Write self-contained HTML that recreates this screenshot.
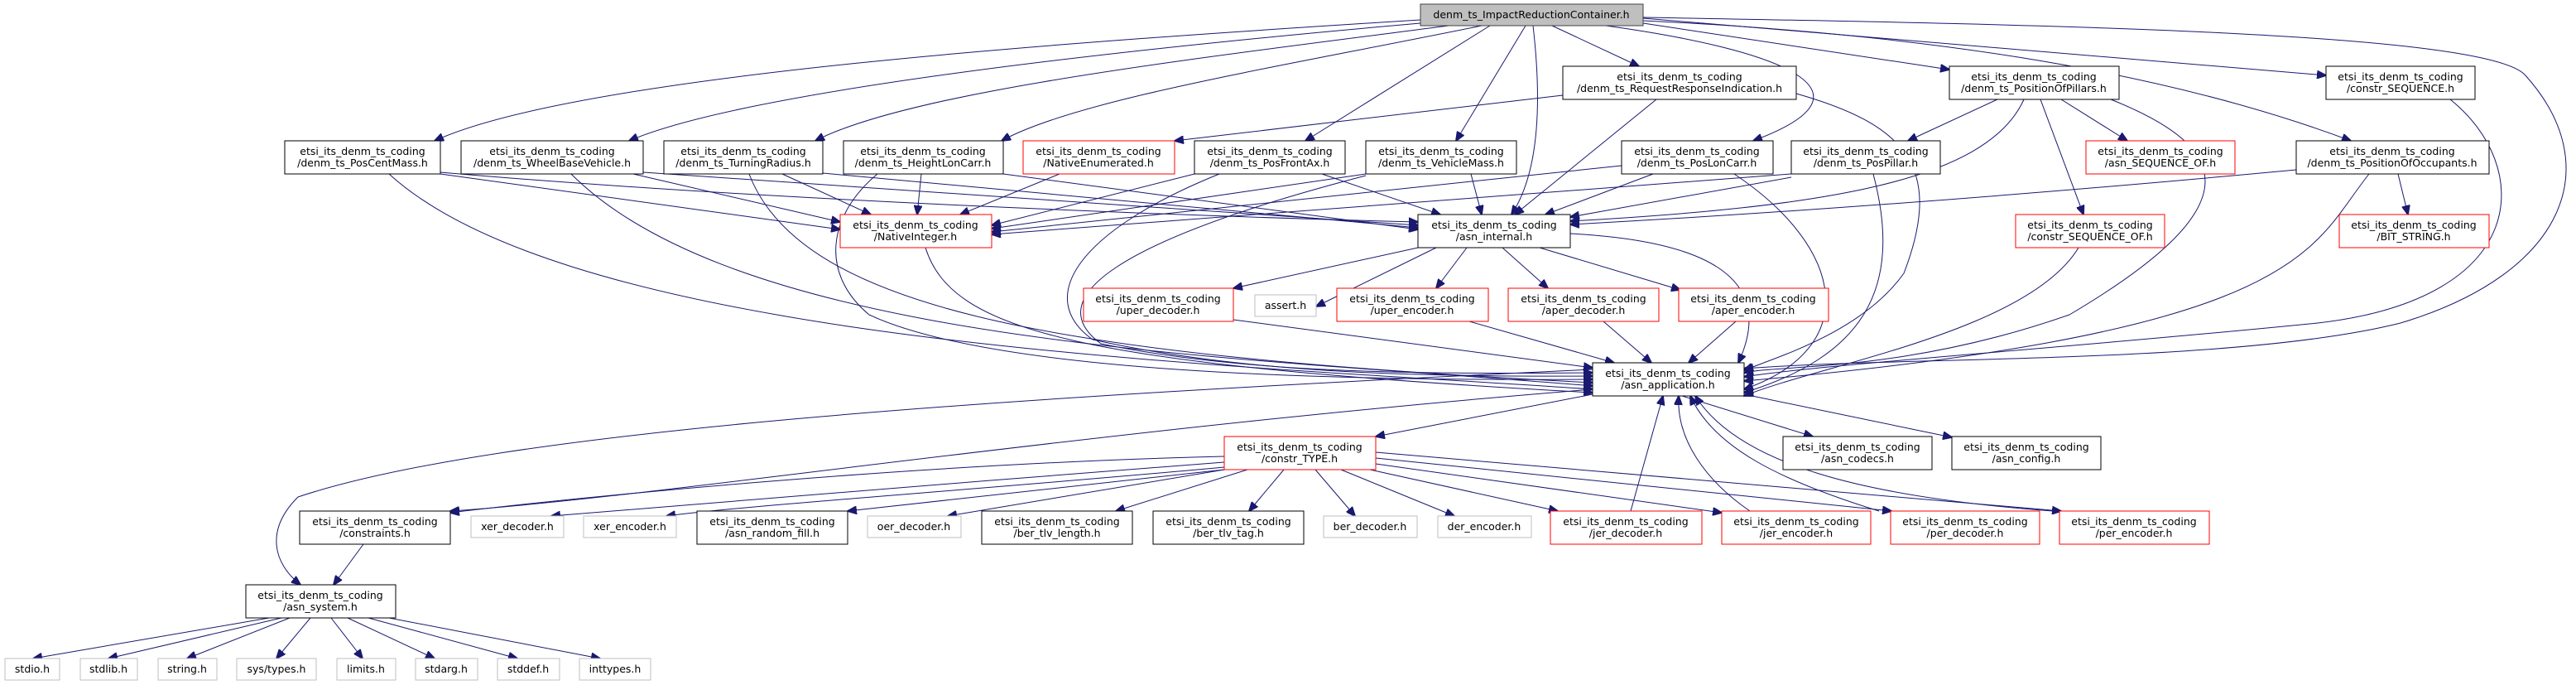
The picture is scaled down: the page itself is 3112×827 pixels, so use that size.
<!DOCTYPE html>
<html><head><meta charset="utf-8"><style>
html,body{margin:0;padding:0;background:#fff;}
svg{display:block;}
text{font-family:"DejaVu Sans","Liberation Sans",sans-serif;font-size:12.5px;fill:#000;}
.n{fill:#fff;stroke:#000;stroke-width:1;}
.r{fill:#fff;stroke:#ff0000;stroke-width:1;}
.g{fill:#fff;stroke:#bfbfbf;stroke-width:1;}
.e path{fill:none;stroke:#191970;stroke-width:1;marker-end:url(#a);}
</style></head><body>
<svg width="3112" height="827" viewBox="0 0 3112 827" xmlns="http://www.w3.org/2000/svg">
<defs><marker id="a" markerUnits="userSpaceOnUse" markerWidth="12" markerHeight="10" refX="11" refY="5" orient="auto"><path d="M0,0 L12,5 L0,10 z" fill="#191970" stroke="#191970"/></marker></defs>
<g class="e">
<path d="M1716,24 C1300,50 700,90 525,170"/>
<path d="M1716,28 C1350,60 900,110 760,170"/>
<path d="M1750,31 C1450,70 1100,110 985,170"/>
<path d="M1790,31 C1550,80 1300,120 1210,170"/>
<path d="M1800,31 L1577,170"/>
<path d="M1843,31 L1759,170"/>
<path d="M1852,31 C1860,100 1865,200 1826,259"/>
<path d="M1875,31 L1980,80"/>
<path d="M1940,31 C2150,60 2280,110 2118,170"/>
<path d="M1985,28 L2355,84"/>
<path d="M1985,22 L2810,91"/>
<path d="M1985,25 C2300,40 2600,80 2840,170"/>
<path d="M1985,21 C2500,30 3000,40 3050,90 C3150,200 3100,330 2900,390 C2700,440 2300,430 2107,445"/>
<path d="M1888,115 L1419,170"/>
<path d="M2001,120 L1830,259"/>
<path d="M2170,113 C2300,150 2350,200 2300,330 C2250,400 2150,430 2107,447"/>
<path d="M2413,120 L2305,170"/>
<path d="M2445,120 C2400,220 2200,250 1897,267"/>
<path d="M2490,120 L2570,170"/>
<path d="M2465,120 L2517,259"/>
<path d="M2550,120 C2700,180 2720,250 2500,380 C2300,450 2150,440 2107,450"/>
<path d="M2960,120 C3060,200 3060,360 2800,390 C2500,420 2200,440 2107,455"/>
<path d="M2774,205 C2400,240 2100,260 1897,271"/>
<path d="M2897,210 L2909,259"/>
<path d="M2862,210 C2790,300 2790,400 2107,460"/>
<path d="M532,210 L1015,277"/>
<path d="M532,208 C900,240 1400,260 1713,268"/>
<path d="M470,210 C700,420 1500,440 1924,470"/>
<path d="M765,210 L1015,268"/>
<path d="M777,208 L1713,272"/>
<path d="M690,210 C900,420 1500,430 1924,466"/>
<path d="M945,210 L1052,259"/>
<path d="M994,209 L1713,275"/>
<path d="M905,210 C970,380 1300,430 1924,462"/>
<path d="M1113,210 L1108,259"/>
<path d="M1212,210 L1713,277"/>
<path d="M1060,210 C1000,260 990,330 1050,380 C1200,450 1600,460 1924,458"/>
<path d="M1280,210 L1160,259"/>
<path d="M1443,210 L1198,272"/>
<path d="M1597,210 L1740,259"/>
<path d="M1473,210 C1300,280 1250,360 1320,410 C1500,450 1700,455 1924,454"/>
<path d="M1650,210 L1198,276"/>
<path d="M1777,210 L1790,259"/>
<path d="M1650,212 C1350,290 1255,360 1330,415 C1500,450 1700,452 1924,450"/>
<path d="M1959,200 L1198,280"/>
<path d="M1997,210 L1867,259"/>
<path d="M2095,210 C2230,300 2250,420 2107,470"/>
<path d="M2164,210 L1198,283"/>
<path d="M2164,214 L1897,262"/>
<path d="M2263,210 C2300,350 2250,430 2107,474"/>
<path d="M2511,299 C2450,400 2200,440 2107,478"/>
<path d="M1118,299 C1150,400 1300,440 1924,474"/>
<path d="M1713,299 L1490,348"/>
<path d="M1735,299 L1590,370"/>
<path d="M1772,299 L1735,348"/>
<path d="M1815,299 L1870,348"/>
<path d="M1860,299 L2030,350"/>
<path d="M1897,282 C2050,290 2150,330 2100,438"/>
<path d="M1490,386 L1924,444"/>
<path d="M1775,388 L1950,438"/>
<path d="M1937,388 L1995,438"/>
<path d="M2097,388 L2040,438"/>
<path d="M1924,476 L1662,527"/>
<path d="M2032,478 L2190,527"/>
<path d="M2107,476 L2358,528"/>
<path d="M1924,446 C1200,480 600,520 360,600 C320,640 330,680 363,706"/>
<path d="M1924,470 C1300,520 800,600 544,617"/>
<path d="M1479,551 C1100,560 700,600 544,619"/>
<path d="M1479,558 C1200,580 800,610 666,623"/>
<path d="M1479,564 C1200,590 900,610 805,623"/>
<path d="M1479,567 L1024,617"/>
<path d="M1479,567 L1145,623"/>
<path d="M1507,567 L1348,617"/>
<path d="M1551,567 L1509,617"/>
<path d="M1589,567 L1637,623"/>
<path d="M1620,567 L1757,623"/>
<path d="M1655,567 L1882,617"/>
<path d="M1662,560 L2080,619"/>
<path d="M1662,553 L2285,617"/>
<path d="M1662,546 L2490,617"/>
<path d="M1970,617 L2009,478"/>
<path d="M2114,617 C2060,580 2025,530 2028,478"/>
<path d="M2270,617 C2150,580 2070,540 2042,478"/>
<path d="M2480,617 C2250,600 2100,560 2048,478"/>
<path d="M439,657 L403,706"/>
<path d="M325,746 L40,795"/>
<path d="M340,746 L131,795"/>
<path d="M350,746 L226,795"/>
<path d="M375,746 L334,795"/>
<path d="M400,746 L438,795"/>
<path d="M420,746 L525,795"/>
<path d="M445,746 L625,795"/>
<path d="M470,746 L725,795"/>
</g>
<g>
<rect x="1716" y="5" width="269" height="26" fill="#bfbfbf" stroke="#404040"/><text x="1850" y="22" text-anchor="middle">denm_ts_ImpactReductionContainer.h</text>
</g>
<g text-anchor="middle">
<rect class="n" x="1888" y="80" width="282" height="40"/><text x="2029" y="97">etsi_its_denm_ts_coding</text><text x="2029" y="111">/denm_ts_RequestResponseIndication.h</text>
<rect class="n" x="2355" y="80" width="205" height="40"/><text x="2457" y="97">etsi_its_denm_ts_coding</text><text x="2457" y="111">/denm_ts_PositionOfPillars.h</text>
<rect class="n" x="2810" y="80" width="180" height="40"/><text x="2900" y="97">etsi_its_denm_ts_coding</text><text x="2900" y="111">/constr_SEQUENCE.h</text>
<rect class="n" x="344" y="170" width="188" height="40"/><text x="438" y="187">etsi_its_denm_ts_coding</text><text x="438" y="201">/denm_ts_PosCentMass.h</text>
<rect class="n" x="557" y="170" width="220" height="40"/><text x="667" y="187">etsi_its_denm_ts_coding</text><text x="667" y="201">/denm_ts_WheelBaseVehicle.h</text>
<rect class="n" x="802" y="170" width="192" height="40"/><text x="898" y="187">etsi_its_denm_ts_coding</text><text x="898" y="201">/denm_ts_TurningRadius.h</text>
<rect class="n" x="1019" y="170" width="193" height="40"/><text x="1115" y="187">etsi_its_denm_ts_coding</text><text x="1115" y="201">/denm_ts_HeightLonCarr.h</text>
<rect class="r" x="1236" y="170" width="183" height="40"/><text x="1327" y="187">etsi_its_denm_ts_coding</text><text x="1327" y="201">/NativeEnumerated.h</text>
<rect class="n" x="1443" y="170" width="182" height="40"/><text x="1534" y="187">etsi_its_denm_ts_coding</text><text x="1534" y="201">/denm_ts_PosFrontAx.h</text>
<rect class="n" x="1650" y="170" width="182" height="40"/><text x="1741" y="187">etsi_its_denm_ts_coding</text><text x="1741" y="201">/denm_ts_VehicleMass.h</text>
<rect class="n" x="1959" y="170" width="183" height="40"/><text x="2050" y="187">etsi_its_denm_ts_coding</text><text x="2050" y="201">/denm_ts_PosLonCarr.h</text>
<rect class="n" x="2164" y="170" width="180" height="40"/><text x="2254" y="187">etsi_its_denm_ts_coding</text><text x="2254" y="201">/denm_ts_PosPillar.h</text>
<rect class="r" x="2520" y="170" width="180" height="40"/><text x="2610" y="187">etsi_its_denm_ts_coding</text><text x="2610" y="201">/asn_SEQUENCE_OF.h</text>
<rect class="n" x="2774" y="170" width="233" height="40"/><text x="2890" y="187">etsi_its_denm_ts_coding</text><text x="2890" y="201">/denm_ts_PositionOfOccupants.h</text>
<rect class="r" x="1015" y="259" width="183" height="40"/><text x="1106" y="276">etsi_its_denm_ts_coding</text><text x="1106" y="290">/NativeInteger.h</text>
<rect class="n" x="1713" y="259" width="184" height="40"/><text x="1805" y="276">etsi_its_denm_ts_coding</text><text x="1805" y="290">/asn_internal.h</text>
<rect class="r" x="2435" y="259" width="180" height="40"/><text x="2525" y="276">etsi_its_denm_ts_coding</text><text x="2525" y="290">/constr_SEQUENCE_OF.h</text>
<rect class="r" x="2826" y="259" width="181" height="40"/><text x="2916" y="276">etsi_its_denm_ts_coding</text><text x="2916" y="290">/BIT_STRING.h</text>
<rect class="r" x="1309" y="348" width="181" height="40"/><text x="1399" y="365">etsi_its_denm_ts_coding</text><text x="1399" y="379">/uper_decoder.h</text>
<rect class="g" x="1516" y="356" width="74" height="26"/><text x="1553" y="373">assert.h</text>
<rect class="r" x="1615" y="348" width="183" height="40"/><text x="1706" y="365">etsi_its_denm_ts_coding</text><text x="1706" y="379">/uper_encoder.h</text>
<rect class="r" x="1822" y="348" width="182" height="40"/><text x="1913" y="365">etsi_its_denm_ts_coding</text><text x="1913" y="379">/aper_decoder.h</text>
<rect class="r" x="2028" y="348" width="181" height="40"/><text x="2118" y="365">etsi_its_denm_ts_coding</text><text x="2118" y="379">/aper_encoder.h</text>
<rect class="n" x="1924" y="438" width="183" height="40"/><text x="2015" y="455">etsi_its_denm_ts_coding</text><text x="2015" y="469">/asn_application.h</text>
<rect class="r" x="1479" y="527" width="183" height="40"/><text x="1570" y="544">etsi_its_denm_ts_coding</text><text x="1570" y="558">/constr_TYPE.h</text>
<rect class="n" x="2154" y="527" width="180" height="40"/><text x="2244" y="544">etsi_its_denm_ts_coding</text><text x="2244" y="558">/asn_codecs.h</text>
<rect class="n" x="2358" y="527" width="180" height="40"/><text x="2448" y="544">etsi_its_denm_ts_coding</text><text x="2448" y="558">/asn_config.h</text>
<rect class="n" x="362" y="617" width="182" height="40"/><text x="453" y="634">etsi_its_denm_ts_coding</text><text x="453" y="648">/constraints.h</text>
<rect class="g" x="569" y="623" width="112" height="26"/><text x="625" y="640">xer_decoder.h</text>
<rect class="g" x="705" y="623" width="112" height="26"/><text x="761" y="640">xer_encoder.h</text>
<rect class="n" x="842" y="617" width="182" height="40"/><text x="933" y="634">etsi_its_denm_ts_coding</text><text x="933" y="648">/asn_random_fill.h</text>
<rect class="g" x="1048" y="623" width="113" height="26"/><text x="1104" y="640">oer_decoder.h</text>
<rect class="n" x="1186" y="617" width="182" height="40"/><text x="1277" y="634">etsi_its_denm_ts_coding</text><text x="1277" y="648">/ber_tlv_length.h</text>
<rect class="n" x="1393" y="617" width="182" height="40"/><text x="1484" y="634">etsi_its_denm_ts_coding</text><text x="1484" y="648">/ber_tlv_tag.h</text>
<rect class="g" x="1599" y="623" width="113" height="26"/><text x="1655" y="640">ber_decoder.h</text>
<rect class="g" x="1737" y="623" width="113" height="26"/><text x="1793" y="640">der_encoder.h</text>
<rect class="r" x="1873" y="617" width="183" height="40"/><text x="1964" y="634">etsi_its_denm_ts_coding</text><text x="1964" y="648">/jer_decoder.h</text>
<rect class="r" x="2080" y="617" width="180" height="40"/><text x="2170" y="634">etsi_its_denm_ts_coding</text><text x="2170" y="648">/jer_encoder.h</text>
<rect class="r" x="2284" y="617" width="180" height="40"/><text x="2374" y="634">etsi_its_denm_ts_coding</text><text x="2374" y="648">/per_decoder.h</text>
<rect class="r" x="2488" y="617" width="181" height="40"/><text x="2578" y="634">etsi_its_denm_ts_coding</text><text x="2578" y="648">/per_encoder.h</text>
<rect class="n" x="297" y="706" width="181" height="40"/><text x="387" y="723">etsi_its_denm_ts_coding</text><text x="387" y="737">/asn_system.h</text>
<rect class="g" x="6" y="795" width="66" height="26"/><text x="39" y="812">stdio.h</text>
<rect class="g" x="97" y="795" width="69" height="26"/><text x="131" y="812">stdlib.h</text>
<rect class="g" x="191" y="795" width="71" height="26"/><text x="226" y="812">string.h</text>
<rect class="g" x="286" y="795" width="96" height="26"/><text x="334" y="812">sys/types.h</text>
<rect class="g" x="407" y="795" width="71" height="26"/><text x="442" y="812">limits.h</text>
<rect class="g" x="502" y="795" width="75" height="26"/><text x="539" y="812">stdarg.h</text>
<rect class="g" x="601" y="795" width="75" height="26"/><text x="638" y="812">stddef.h</text>
<rect class="g" x="700" y="795" width="86" height="26"/><text x="743" y="812">inttypes.h</text>
</g>
</svg>
</body></html>
